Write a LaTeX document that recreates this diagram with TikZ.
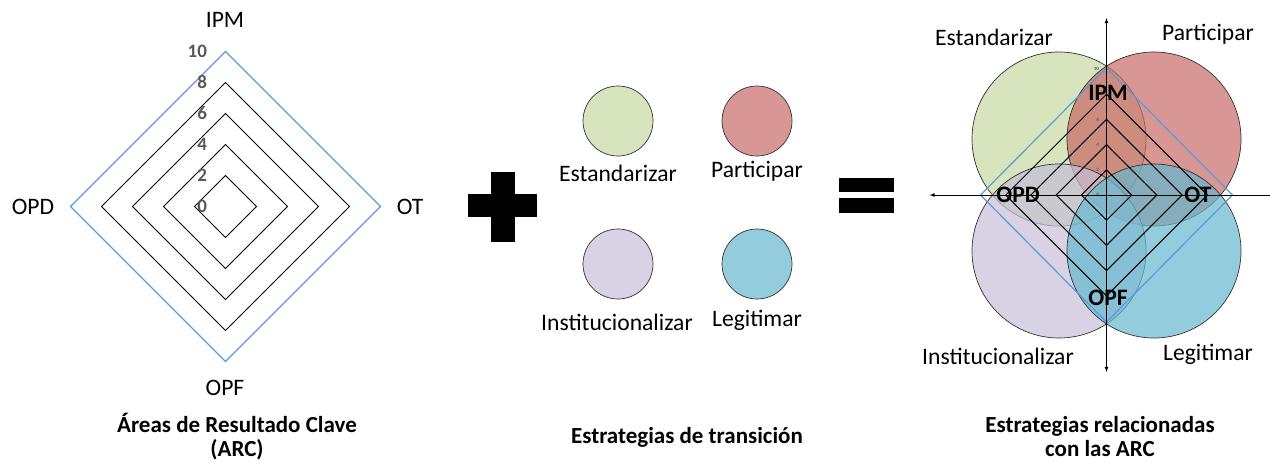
\documentclass[tikz,border=0pt]{standalone}
\usepackage{fontspec}
\setmainfont{Carlito}
\usetikzlibrary{positioning}
\definecolor{azul}{RGB}{91,155,213}
\definecolor{gris}{RGB}{89,89,89}
\definecolor{verde}{RGB}{198,216,161}
\definecolor{rojo}{RGB}{200,105,102}
\definecolor{lila}{RGB}{199,191,216}
\definecolor{celeste}{RGB}{101,184,206}

\begin{document}
\begin{tikzpicture}[x=1pt,y=-1pt,line width=1pt,
    every node/.style={font=\fontsize{23.6}{27}\selectfont},
    estrat/.style={circle,draw=black!80,line width=0.7pt,fill opacity=0.7,inner sep=0pt},
    titulo/.style={font=\fontsize{23}{24}\selectfont\bfseries,align=center},
    valor/.style={text=gris,font=\fontsize{19}{19}\selectfont\bfseries,anchor=east,inner sep=1pt},
    valorchico/.style={text=gris,font=\fontsize{5}{5}\selectfont\bfseries,anchor=east,inner sep=1pt},
    eje/.style={font=\fontsize{23.6}{27}\selectfont\bfseries}]
  \useasboundingbox (0,0) rectangle (1270,464);

  % areas de resultado clave
  \begin{scope}[shift={(225.5,206.5)}]
    \foreach \v in {2,4,6,8}
      \draw (0,-15.5*\v) -- (15.5*\v,0) -- (0,15.5*\v) -- (-15.5*\v,0) -- cycle;
    \draw[azul,line width=1.4pt] (0,-155) -- (155,0) -- (0,155) -- (-155,0) -- cycle;
    \foreach \v in {0,2,...,10}
      \node[valor] (val\v) at (-17,-15.5*\v) {\v};
  \end{scope}
  \node (ipm) at (225,20) {IPM};
  \node (opd) at (33,207) {OPD};
  \node (ot) at (410,207) {OT};
  \node (opf) at (225,388) {OPF};
  \node[titulo] (arc) at (237,437) {Áreas de Resultado Clave\\(ARC)};

  % mas
  \fill (491,172) rectangle (515,242);
  \fill (468,194) rectangle (537,217);

  % estrategias de transicion
  \node[estrat,fill=verde,minimum size=70pt] (cverde) at (618,121) {};
  \node[estrat,fill=rojo,minimum size=70pt] (crojo) at (757,121) {};
  \node[estrat,fill=lila,minimum size=70pt] (clila) at (618,264) {};
  \node[estrat,fill=celeste,minimum size=70pt] (cceleste) at (757,264) {};
  \node (estand) at (618,173) {Estandarizar};
  \node (partic) at (757,171) {Participar};
  \node (instit) at (617,322) {Institucionalizar};
  \node (legit) at (757,320) {Legitimar};
  \node[titulo] (trans) at (687,437) {Estrategias de transición};

  % igual
  \fill (839,178) rectangle (894,192);
  \fill (839,198) rectangle (894,213);

  % estrategias relacionadas
  \begin{scope}[shift={(1106.5,195)}]
    \node[estrat,fill=verde,minimum size=174pt] (rverde) at (-47.5,-56) {};
    \node[estrat,fill=rojo,minimum size=174pt] (rrojo) at (47.5,-56) {};
    \node[estrat,fill=lila,minimum size=174pt] (rlila) at (-47.5,56) {};
    \node[estrat,fill=celeste,minimum size=174pt] (rceleste) at (47.5,56) {};
    \foreach \v in {2,4,6,8}
      \draw (0,-12.6*\v) -- (12.6*\v,0) -- (0,12.6*\v) -- (-12.6*\v,0) -- cycle;
    \draw[azul,line width=1.2pt] (0,-127) -- (126,0) -- (0,127) -- (-126,0) -- cycle;
    \foreach \v in {0,2,...,10}
      \node[valorchico] (rval\v) at (-6,-12.6*\v) {\v};
    \coordinate (arriba) at (0,-177);
    \coordinate (abajo) at (0,177);
    \coordinate (izq) at (-177,0);
    \coordinate (der) at (164,0);
    \draw[latex-latex,line width=0.8pt] (arriba) -- (abajo);
    \draw[-latex,line width=0.8pt] (der) -- (izq);
  \end{scope}
  \node[eje] (ripm) at (1108,93) {IPM};
  \node[eje] (ropd) at (1018,195) {OPD};
  \node[eje] (rot) at (1198,195) {OT};
  \node[eje] (ropf) at (1108,298) {OPF};
  \node (restand) at (994,37) {Estandarizar};
  \node (rpartic) at (1208,34) {Participar};
  \node (rinstit) at (998,356) {Institucionalizar};
  \node (rlegit) at (1208,354) {Legitimar};
  \node[titulo] (relac) at (1100,437) {Estrategias relacionadas\\con las ARC};
\end{tikzpicture}
\end{document}
